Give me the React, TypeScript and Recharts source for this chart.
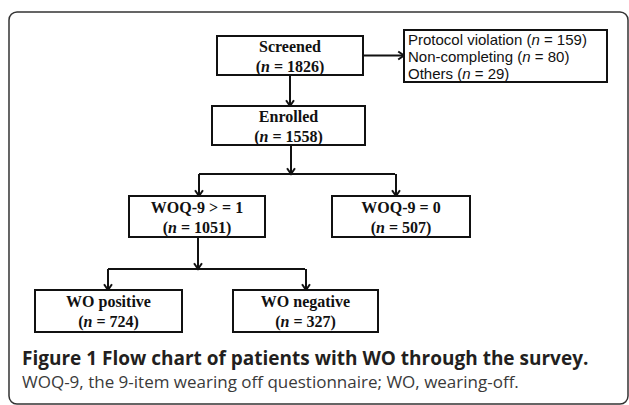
import React from 'react';
import { ScatterChart, Scatter, XAxis, YAxis, ReferenceLine, ReferenceArea } from 'recharts';

// flow chart content
const boxIds = ['screened', 'enrolled', 'woqPos', 'woqZero', 'woPos', 'woNeg'];
const boxLabels = ['Screened', 'Enrolled', 'WOQ-9 > = 1', 'WOQ-9 = 0', 'WO positive', 'WO negative'];
const boxCounts = [1826, 1558, 1051, 507, 724, 327];
const exclusionLabels = ['Protocol violation', 'Non-completing', 'Others'];
const exclusionCounts = [159, 80, 29];
const captionTitle = 'Figure 1 Flow chart of patients with WO through the survey.';
const captionText = 'WOQ-9, the 9-item wearing off questionnaire; WO, wearing-off.';

// layout in chart units (the axes span the whole 629x405 frame)
const W = 629;
const H = 405;
const layout: Record<string, { x: number; y: number; w: number; h: number }> = {
  screened: { x: 290, y: 55.5, w: 146, h: 39 },
  enrolled: { x: 288.5, y: 125.5, w: 153, h: 39 },
  woqPos: { x: 197, y: 216.5, w: 136, h: 41 },
  woqZero: { x: 401, y: 216.5, w: 138, h: 41 },
  woPos: { x: 108.5, y: 311, w: 147, h: 42 },
  woNeg: { x: 305.5, y: 311, w: 145, h: 42 },
};
const exclusionBox = { x1: 404, x2: 607, y1: 30, y2: 82 };
const branch1Y = 174;
const branch2Y = 269;

const nodes = boxIds.map((id, i) => ({
  id,
  label: boxLabels[i],
  n: boxCounts[i],
  x: layout[id].x,
  y: layout[id].y,
}));

const exclusionNode = [{ id: 'excl', x: exclusionBox.x1, y: exclusionBox.y1 }];

const L = layout;
const bottom = (id: string) => L[id].y + L[id].h / 2;
const top = (id: string) => L[id].y - L[id].h / 2;

// connectors: [x1, y1, x2, y2, arrow]
const links: [number, number, number, number, boolean][] = [
  [L.screened.x + L.screened.w / 2, L.screened.y, exclusionBox.x1, L.screened.y, true],
  [L.screened.x, bottom('screened'), L.screened.x, top('enrolled'), true],
  [291, bottom('enrolled'), 291, branch1Y, true],
  [199, branch1Y, 396, branch1Y, false],
  [199, branch1Y, 199, top('woqPos'), true],
  [396, branch1Y, 396, top('woqZero'), true],
  [198, bottom('woqPos'), 198, branch2Y, true],
  [108, branch2Y, 306, branch2Y, false],
  [108, branch2Y, 108, top('woPos'), true],
  [306, branch2Y, 306, top('woNeg'), true],
];

const serif = '"Liberation Serif", "Times New Roman", serif';
const sans = '"Liberation Sans", Arial, sans-serif';

const BoxShape = (props: any) => {
  const { cx, cy, payload } = props;
  const s = L[payload.id];
  return (
    <g>
      <rect x={cx - s.w / 2} y={cy - s.h / 2} width={s.w} height={s.h} fill="#fff" stroke="#111" strokeWidth={2} />
      <text x={cx} y={cy - 4} textAnchor="middle" fontFamily={serif} fontWeight="bold" fontSize={16} fill="#111">
        {payload.label}
      </text>
      <text x={cx} y={cy + 16} textAnchor="middle" fontFamily={serif} fontWeight="bold" fontSize={16} fill="#111">
        (<tspan fontStyle="italic">n</tspan> = {payload.n})
      </text>
    </g>
  );
};

const ExclusionShape = (props: any) => {
  const { cx, cy } = props;
  const w = exclusionBox.x2 - exclusionBox.x1;
  const h = exclusionBox.y2 - exclusionBox.y1;
  return (
    <g>
      <rect x={cx} y={cy} width={w} height={h} fill="#fff" stroke="#111" strokeWidth={2} />
      {exclusionLabels.map((lab, i) => (
        <text key={lab} x={cx + 4} y={cy + 15 + i * 17} fontFamily={sans} fontSize={15} fill="#111">
          {lab} (<tspan fontStyle="italic">n</tspan> = {exclusionCounts[i]})
        </text>
      ))}
    </g>
  );
};

const Arrow = (props: any) => {
  const { x1, y1, x2, y2, arrow } = props;
  const ang = Math.atan2(y2 - y1, x2 - x1);
  const a = 7;
  const p1 = [x2 - a * Math.cos(ang - 0.6), y2 - a * Math.sin(ang - 0.6)];
  const p2 = [x2 - a * Math.cos(ang + 0.6), y2 - a * Math.sin(ang + 0.6)];
  return (
    <g>
      <line x1={x1} y1={y1} x2={x2 - Math.cos(ang)} y2={y2 - Math.sin(ang)} stroke="#111" strokeWidth={2} />
      {arrow && (
        <polyline points={`${p1[0]},${p1[1]} ${x2},${y2} ${p2[0]},${p2[1]}`} fill="none" stroke="#111" strokeWidth={2} />
      )}
    </g>
  );
};

const Frame = (props: any) => {
  const { x, y, width, height } = props;
  return <rect x={x} y={y} width={width} height={height} rx={8} ry={8} fill="none" stroke="#333" strokeWidth={1.5} />;
};

export default function App() {
  return (
    <div style={{ position: 'absolute', left: 0, top: 0, width: W, height: H, background: '#fff' }}>
      <ScatterChart width={W} height={H} margin={{ top: 0, right: 0, bottom: 0, left: 0 }}>
        <XAxis type="number" dataKey="x" domain={[0, W]} hide />
        <YAxis type="number" dataKey="y" domain={[0, H]} reversed hide />
        <ReferenceArea x1={9} x2={628} y1={12} y2={404} shape={<Frame />} />
        {links.map(([x1, y1, x2, y2, arrow], i) => (
          <ReferenceLine
            key={i}
            segment={[{ x: x1, y: y1 }, { x: x2, y: y2 }]}
            shape={(p: any) => <Arrow {...p} arrow={arrow} />}
          />
        ))}
        <Scatter data={nodes} shape={<BoxShape />} isAnimationActive={false} />
        <Scatter data={exclusionNode} shape={<ExclusionShape />} isAnimationActive={false} />
      </ScatterChart>
      <div
        style={{
          position: 'absolute',
          left: 22,
          top: 345,
          fontFamily: '"Open Sans", "Noto Sans", sans-serif',
          color: '#231f20',
          whiteSpace: 'nowrap',
        }}
      >
        <div style={{ fontSize: 19, fontWeight: 700, lineHeight: '26px' }}>{captionTitle}</div>
        <div style={{ fontSize: 17, lineHeight: '22px', color: '#3a3a3a' }}>{captionText}</div>
      </div>
    </div>
  );
}
